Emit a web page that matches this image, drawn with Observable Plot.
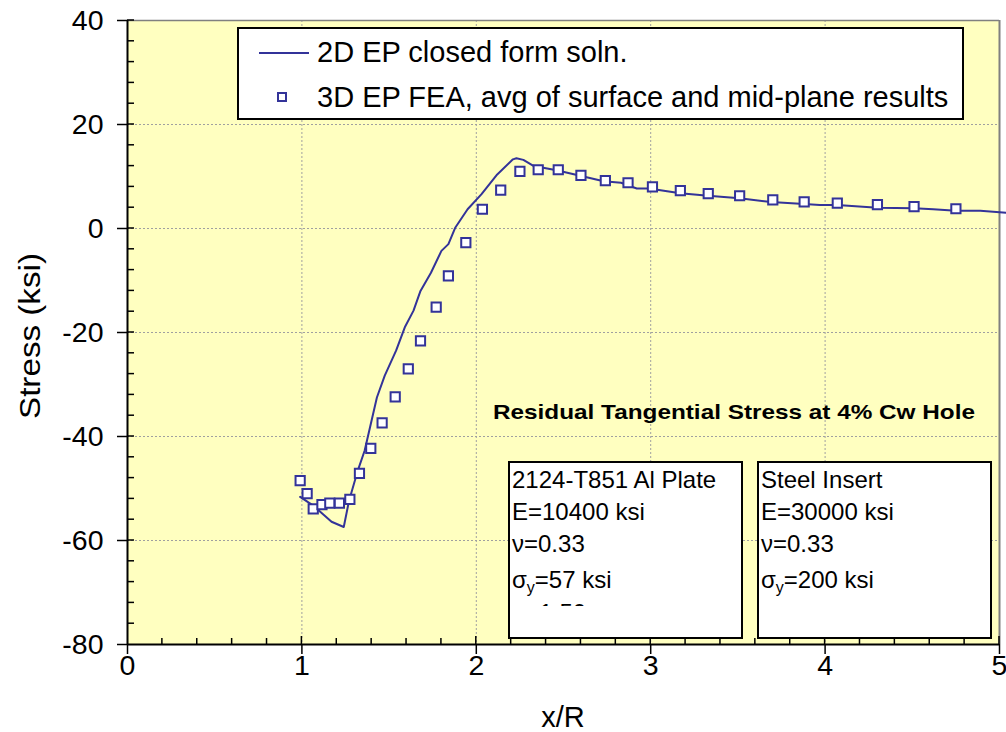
<!DOCTYPE html>
<html><head><meta charset="utf-8">
<script src="https://cdn.jsdelivr.net/npm/d3@7"></script>
<script src="https://cdn.jsdelivr.net/npm/@observablehq/plot@0.6"></script>
<style>
html,body{margin:0;padding:0;background:#fff;}
#chart{width:1006px;height:732px;position:relative;}
</style>
</head><body><div id="chart"></div>
<script>
// ---- data ----
const curveX = [0.99,1.065,1.11,1.17,1.24,1.27,1.32,1.36,1.43,1.475,1.54,1.59,1.64,1.68,1.74,1.80,1.84,1.88,1.95,2.03,2.12,2.21,2.23,2.27,2.33,2.46,2.59,2.73,2.83,2.92,2.99,3.17,3.33,3.51,3.69,3.88,3.97,4.07,4.30,4.51,4.62,4.75,4.89,5.04];
const curveY = [-51.6,-53.3,-54.6,-56.4,-57.4,-52.4,-46.6,-42.7,-32.5,-28.3,-23.5,-19.0,-15.8,-12.0,-8.5,-4.3,-3.0,0.2,3.7,6.6,10.4,13.3,13.5,13.2,12.0,11.2,10.2,9.1,8.8,7.7,7.7,6.8,6.3,5.8,5.1,4.7,4.5,4.5,4.0,3.9,3.7,3.4,3.4,3.0];
const feaX = [0.99,1.03,1.065,1.115,1.16,1.215,1.275,1.33,1.395,1.46,1.535,1.61,1.68,1.77,1.84,1.94,2.035,2.14,2.25,2.355,2.47,2.60,2.74,2.87,3.01,3.17,3.33,3.51,3.70,3.88,4.07,4.30,4.51,4.75];
const feaY = [-48.5,-51.0,-53.9,-53.1,-52.8,-52.8,-52.1,-47.1,-42.3,-37.4,-32.4,-27.0,-21.6,-15.1,-9.1,-2.7,3.7,7.4,11.0,11.3,11.3,10.2,9.2,8.8,8.0,7.3,6.7,6.3,5.5,5.1,4.9,4.6,4.2,3.8];
const xTicks = [0,1,2,3,4,5];
const yTicks = [-80,-60,-40,-20,0,20,40];
const xGrid = [1,2,3,4];
const yGrid = [-60,-40,-20,0,20];
const seriesNames = ["2D EP closed form soln.", "3D EP FEA, avg of surface and mid-plane results"];
const chartTitle = "Residual Tangential Stress at 4% Cw Hole";
const plateLines = ["2124-T851 Al Plate", "E=10400 ksi", "ν=0.33", "σ|y|=57 ksi", "n=1.50"];
const insertLines = ["Steel Insert", "E=30000 ksi", "ν=0.33", "σ|y|=200 ksi"];
const xLabel = "x/R";
const yLabel = "Stress (ksi)";

const FONT = "'Liberation Sans', Arial, sans-serif";
const NAVY = "#333399";
const curve = curveX.map((x, i) => ({x, y: curveY[i]}));
const fea = feaX.map((x, i) => ({x, y: feaY[i]}));

const chart = Plot.plot({
  width: 1006, height: 732,
  marginLeft: 127, marginRight: 7, marginTop: 20, marginBottom: 88,
  x: {domain: [0, 5]},
  y: {domain: [-80, 40]},
  style: {fontFamily: FONT, background: "transparent", color: "black", overflow: "visible"},
  marks: [
    Plot.frame({fill: "#FFFFC0"}),
    Plot.ruleX(xGrid, {stroke: "#a0a0a0", strokeDasharray: "2,2"}),
    Plot.ruleY(yGrid, {stroke: "#a0a0a0", strokeDasharray: "2,2"}),
    Plot.ruleX([5], {stroke: "#808080", strokeWidth: 2}),
    Plot.ruleY([40], {stroke: "#808080", strokeWidth: 1.5}),
    Plot.ruleX([0], {stroke: "black", strokeWidth: 2}),
    Plot.ruleY([-80], {stroke: "black", strokeWidth: 2}),
    Plot.axisX({ticks: xTicks, tickSize: 10, tickPadding: 0, fontSize: 28.5, strokeWidth: 1.5, tickFormat: d => String(d), label: null}),
    Plot.axisY({ticks: yTicks, tickSize: 10, tickPadding: 14, fontSize: 28.5, strokeWidth: 1.5, tickFormat: d => String(d), label: null}),
    Plot.line(curve, {x: "x", y: "y", stroke: NAVY, strokeWidth: 2}),
    Plot.dot(fea, {x: "x", y: "y", symbol: "square", r: 5.2, fill: "white", stroke: NAVY, strokeWidth: 2})
  ]
});
document.getElementById("chart").appendChild(chart);

// ---- decorations via the chart's scales ----
const svg = d3.select(chart);
const sx = chart.scale("x"), sy = chart.scale("y");
const x0 = sx.apply(0), yb = sy.apply(-80);
const deco = svg.append("g").attr("stroke", "black").attr("stroke-width", 1.5);
// x ticks inside
d3.range(0, 51).map(i => i / 10).filter((v, i) => i % 2 === 0 && v > 0).forEach(v => {
  const major = Math.abs(v - Math.round(v)) < 1e-9;
  deco.append("line").attr("x1", sx.apply(v)).attr("x2", sx.apply(v))
    .attr("y1", yb).attr("y2", yb - (major ? 8 : 6));
});
// y ticks inside
d3.range(-80, 41, 4).forEach(v => {
  if (v === -80) return;
  deco.append("line").attr("x1", x0).attr("x2", x0 + 7)
    .attr("y1", sy.apply(v)).attr("y2", sy.apply(v));
});

// axis titles
svg.append("text").attr("x", (sx.apply(0) + sx.apply(5)) / 2).attr("y", 727)
  .attr("text-anchor", "middle").attr("font-size", 29).attr("font-family", FONT).text(xLabel);
svg.append("text").attr("transform", `translate(40,${(sy.apply(40) + sy.apply(-80)) / 2 + 4}) rotate(-90)`)
  .attr("text-anchor", "middle").attr("font-size", 29).attr("font-family", FONT)
  .attr("textLength", 166).attr("lengthAdjust", "spacingAndGlyphs").text(yLabel);

// legend
const lg = svg.append("g").attr("font-family", FONT).attr("font-size", 29).attr("text-anchor", "start");
lg.append("rect").attr("x", 238).attr("y", 28).attr("width", 725).attr("height", 91)
  .attr("fill", "white").attr("stroke", "black").attr("stroke-width", 2);
lg.append("line").attr("x1", 259).attr("x2", 309).attr("y1", 53).attr("y2", 53)
  .attr("stroke", NAVY).attr("stroke-width", 2);
lg.append("text").attr("x", 317).attr("y", 62).text(seriesNames[0]);
lg.append("rect").attr("x", 278).attr("y", 93).attr("width", 8).attr("height", 8)
  .attr("fill", "white").attr("stroke", NAVY).attr("stroke-width", 2);
lg.append("text").attr("x", 317).attr("y", 107).text(seriesNames[1]);

// annotation title
svg.append("text").attr("x", 493).attr("y", 419).attr("font-family", FONT)
  .attr("text-anchor", "start").attr("font-weight", "bold").attr("font-size", 20.5)
  .attr("textLength", 482).attr("lengthAdjust", "spacingAndGlyphs").text(chartTitle);

// material boxes
const defs = svg.append("defs");
function box(x, lines, id) {
  defs.append("clipPath").attr("id", id).append("rect")
    .attr("x", x).attr("y", 462).attr("width", 233).attr("height", 144);
  const g = svg.append("g").attr("font-family", FONT).attr("font-size", 24).attr("text-anchor", "start");
  g.append("rect").attr("x", x).attr("y", 462).attr("width", 233).attr("height", 176)
    .attr("fill", "white").attr("stroke", "black").attr("stroke-width", 2);
  const tg = g.append("g").attr("clip-path", `url(#${id})`);
  const base = [487.5, 520, 552, 588, 621];
  lines.forEach((s, i) => {
    const t = tg.append("text").attr("x", x + 3).attr("y", base[i]);
    const parts = s.split("|");
    if (parts.length === 3) {
      t.append("tspan").text(parts[0]);
      t.append("tspan").attr("font-size", 16).attr("dy", 5).text(parts[1]);
      t.append("tspan").attr("dy", -5).text(parts[2]);
    } else t.text(s);
  });
}
box(509, plateLines, "clipA");
box(758, insertLines, "clipB");
</script>
</body></html>
